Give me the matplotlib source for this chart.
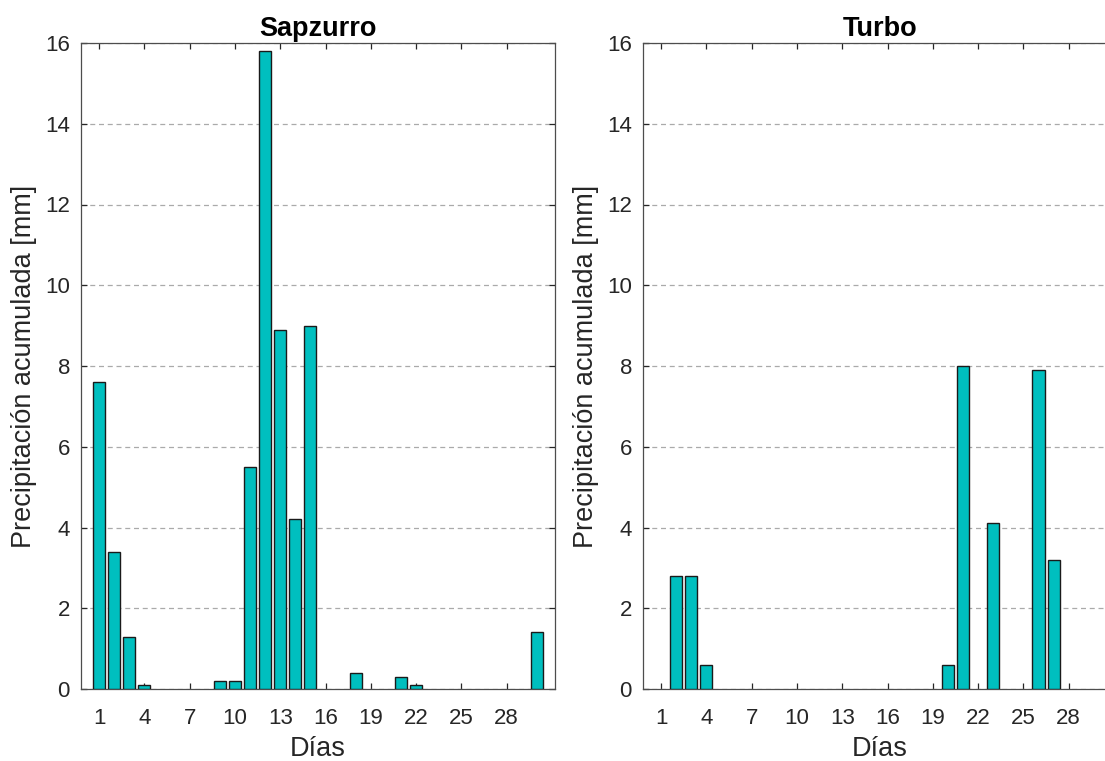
import matplotlib
matplotlib.use("Agg")
import matplotlib.pyplot as plt

# Daily accumulated precipitation (mm) per station
sapzurro_days = [1, 2, 3, 4, 9, 10, 11, 12, 13, 14, 15, 18, 21, 22, 30]
sapzurro_mm = [7.6, 3.4, 1.3, 0.1, 0.2, 0.2, 5.5, 15.8, 8.9, 4.2, 9.0, 0.4, 0.3, 0.1, 1.4]

turbo_days = [2, 3, 4, 20, 21, 23, 26, 27]
turbo_mm = [2.8, 2.8, 0.6, 0.6, 8.0, 4.1, 7.9, 3.2]

x_ticks = list(range(1, 29, 3))
y_ticks = list(range(0, 17, 2))

stations = [("Sapzurro", sapzurro_days, sapzurro_mm),
            ("Turbo", turbo_days, turbo_mm)]

plt.rcParams["font.family"] = ["Liberation Sans", "DejaVu Sans"]
text_color = "#262626"

W, H = 1105, 761
fig = plt.figure(figsize=(W / 100, H / 100), dpi=100)

ax_w = 474 / W
ax_h = 646 / H
ax_b = (H - 689) / H
lefts = [81 / W, 643 / W]

for i, (left, (name, days, mm)) in enumerate(zip(lefts, stations)):
    ax = fig.add_axes([left, ax_b, ax_w, ax_h])
    ax.bar(days, mm, width=0.8, color="#00BFBF", edgecolor="#1a1a1a",
           linewidth=1.0, zorder=3)
    ax.set_xlim(-0.2, 31.2)
    ax.set_ylim(0, 16)
    ax.set_xticks(x_ticks)
    ax.set_yticks(y_ticks)
    ax.yaxis.grid(True, linestyle=(0, (4, 3)), color="#aaaaaa", linewidth=0.9)
    ax.set_axisbelow(True)
    ax.tick_params(direction="in", length=4.5, width=0.9, top=True, right=True,
                   labelsize=16, colors=text_color)
    ax.tick_params(axis="x", pad=14)
    ax.tick_params(axis="y", pad=8)
    for sp in ax.spines.values():
        sp.set_color("#4d4d4d")
        sp.set_linewidth(0.9)
    if i == 1:
        # the second panel runs past the figure's right edge
        ax.spines["right"].set_visible(False)
    ax.set_xlabel("Días", fontsize=19.5, color=text_color, labelpad=5)
    ax.set_ylabel("Precipitación acumulada [mm]", fontsize=19.5,
                  color=text_color, labelpad=6)
    ax.set_title(name, fontsize=19.5, fontweight="bold", color="black", pad=5)

fig.savefig("out.png", dpi=100)
